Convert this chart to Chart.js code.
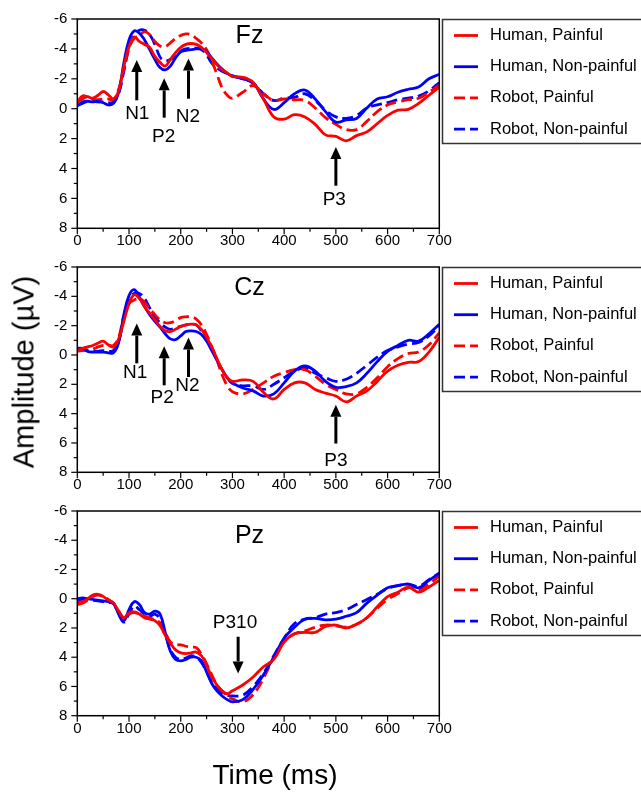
<!DOCTYPE html>
<html>
<head>
<meta charset="utf-8">
<script src="https://cdn.jsdelivr.net/npm/chart.js@4.4.1/dist/chart.umd.min.js"></script>
<style>
  body { margin: 0; background: #fff; width: 641px; height: 792px; overflow: hidden; position: relative;
         font-family: "Liberation Sans", Arial, sans-serif; }
  .panel { position: absolute; left: 0; width: 641px; }
  .axtitle { position: absolute; white-space: nowrap; color: #000; }
  #ytitle { left: 24px; top: 372px; transform: translate(-50%, -50%) rotate(-90deg); font-size: 29px; }
  #xtitle { left: 275px; top: 775px; transform: translate(-50%, -50%); font-size: 28px; }
</style>
</head>
<body>
<div class="panel" style="top:0;height:248px"><canvas id="fz"></canvas></div>
<div class="panel" style="top:248px;height:244px"><canvas id="cz"></canvas></div>
<div class="panel" style="top:492px;height:300px"><canvas id="pz"></canvas></div>
<div class="axtitle" id="ytitle">Amplitude (µV)</div>
<div class="axtitle" id="xtitle">Time (ms)</div>
<script>
// sample times (ms)
const times = [0, 10, 20, 30, 40, 50, 60, 70, 80, 90, 100, 110, 120, 130, 140, 150, 160, 170, 180, 190, 200,
  210, 220, 230, 240, 250, 260, 270, 280, 290, 300,
  320, 340, 360, 380, 400, 420, 440, 460, 480, 500, 520, 540, 560, 580, 600, 620, 640, 660, 680, 700];

const seriesNames = ['Human, Painful', 'Human, Non-painful', 'Robot, Painful', 'Robot, Non-painful'];
const xTicks = [0, 100, 200, 300, 400, 500, 600, 700];
const yTicks = [-6, -4, -2, 0, 2, 4, 6, 8];

// Fz (µV)
const fzHumanPain = [-0.45, -0.85, -0.8, -0.7, -0.9, -1.15, -0.93, -0.66, -1.2, -2.85, -4.15, -4.8, -4.5, -4.3, -4.1, -3.5, -3.1, -2.85, -3.3, -3.75, -4.1,
  -4.3, -4.36, -4.3, -4.1, -3.75, -3.35, -2.95, -2.6, -2.4, -2.15,
  -2.1, -1.75, -0.65, 0.55, 0.7, 0.4, 0.55, 1.05, 1.75, 1.85, 2.15, 1.8, 1.55, 1.0, 0.45, 0.1, 0.05, -0.35, -0.9, -1.45];
const fzHumanNon = [-0.2, -0.45, -0.5, -0.45, -0.5, -0.4, -0.25, -0.35, -1.1, -3.05, -4.6, -5.2, -5.05, -4.6, -3.95, -3.3, -2.75, -2.6, -2.85, -3.4, -3.8,
  -3.9, -3.95, -4.0, -4.0, -3.8, -3.4, -3.0, -2.65, -2.35, -2.2,
  -2.0, -1.75, -0.65, 0.05, -0.4, -1.0, -1.25, -0.65, 0.2, 0.9, 0.75, 0.65, -0.05, -0.65, -0.8, -1.1, -1.3, -1.45, -2.0, -2.3];
const fzRobotPain = [-0.45, -0.65, -0.8, -0.65, -0.6, -0.65, -0.65, -0.6, -1.3, -2.7, -4.05, -4.7, -4.9, -5.15, -4.95, -4.5, -4.2, -4.15, -4.4, -4.7, -4.9,
  -5.0, -4.95, -4.7, -4.4, -3.95, -3.2, -2.3, -1.4, -0.9, -0.7,
  -1.1, -1.55, -1.0, -0.55, -0.65, -0.6, -0.55, -0.05, 0.6, 1.05, 1.4, 1.4, 0.85, 0.2, -0.25, -0.45, -0.6, -0.7, -1.1, -1.6];
const fzRobotNon = [-0.2, -0.35, -0.5, -0.5, -0.45, -0.45, -0.4, -0.45, -1.0, -2.5, -4.05, -4.95, -5.25, -5.25, -4.95, -4.3, -3.45, -3.2, -3.3, -3.5, -3.85,
  -4.0, -4.05, -4.05, -3.95, -3.6, -3.05, -2.75, -2.5, -2.35, -2.2,
  -2.0, -1.7, -1.0, -0.55, -0.7, -0.75, -1.0, -0.55, 0.1, 0.55, 0.65, 0.45, -0.05, -0.25, -0.4, -0.6, -0.7, -0.85, -1.2, -1.75];

// Cz (µV)
const czHumanPain = [-0.3, -0.45, -0.55, -0.65, -0.8, -0.95, -0.7, -0.55, -1.1, -2.3, -3.5, -4.1, -3.85, -3.3, -2.85, -2.4, -1.95, -1.65, -1.6, -1.75, -1.95,
  -2.05, -2.1, -2.05, -1.75, -1.2, -0.55, 0.25, 1.0, 1.55, 1.8,
  1.7, 1.8, 2.55, 3.0, 2.35, 1.9, 1.9, 2.35, 2.6, 2.8, 3.2, 2.8, 2.45, 1.8, 1.1, 0.7, 0.5, 0.45, -0.2, -1.2];
const czHumanNon = [-0.45, -0.45, -0.25, -0.2, -0.2, -0.2, -0.15, -0.15, -0.85, -2.75, -4.05, -4.45, -3.95, -3.3, -2.75, -2.3, -1.9, -1.45, -1.1, -1.05, -1.3,
  -1.6, -1.65, -1.6, -1.4, -0.95, -0.3, 0.35, 1.0, 1.55, 1.9,
  2.25, 2.45, 2.8, 2.65, 1.9, 1.1, 0.75, 1.1, 1.8, 2.2, 2.15, 1.9, 1.25, 0.45, -0.25, -0.65, -1.0, -0.95, -1.45, -2.1];
const czRobotPain = [-0.25, -0.3, -0.35, -0.4, -0.55, -0.65, -0.65, -0.65, -1.2, -2.65, -3.5, -3.75, -3.85, -3.6, -3.15, -2.75, -2.4, -2.2, -2.2, -2.35, -2.55,
  -2.6, -2.6, -2.45, -2.05, -1.4, -0.55, 0.35, 1.35, 2.1, 2.5,
  2.65, 2.35, 1.9, 1.45, 1.2, 1.0, 1.0, 1.45, 2.0, 2.35, 2.65, 2.65, 2.2, 1.55, 0.8, 0.25, -0.1, -0.2, -0.7, -1.5];
const czRobotNon = [-0.35, -0.35, -0.3, -0.25, -0.25, -0.3, -0.25, -0.3, -0.95, -2.5, -3.75, -4.2, -4.2, -3.85, -3.2, -2.6, -2.2, -1.9, -1.75, -1.85, -1.95,
  -2.05, -2.1, -2.05, -1.65, -1.1, -0.4, 0.35, 1.0, 1.55, 1.95,
  2.1, 2.1, 2.35, 2.0, 1.55, 1.1, 0.9, 1.25, 1.55, 1.8, 1.65, 1.25, 0.7, 0.15, -0.3, -0.55, -0.75, -0.85, -1.3, -2.0];

// Pz (µV)
const pzHumanPain = [0.25, 0.2, 0, -0.25, -0.3, -0.15, 0.1, 0.3, 0.85, 1.3, 0.95, 0.9, 1.05, 1.3, 1.4, 1.5, 1.85, 2.5, 3.05, 3.5, 3.7,
  3.75, 3.7, 3.65, 3.9, 4.55, 5.35, 5.9, 6.3, 6.5, 6.3,
  5.9, 5.35, 4.65, 4.15, 2.95, 2.4, 2.3, 2.3, 1.9, 1.8, 2.0, 1.75, 1.3, 0.55, -0.15, -0.45, -0.8, -0.45, -0.8, -1.25];
const pzHumanNon = [0, -0.05, 0, 0.05, 0.1, 0.15, 0.2, 0.3, 1.05, 1.5, 0.75, 0.2, 0.4, 0.95, 1.05, 0.85, 1.05, 2.3, 3.6, 4.15, 4.25,
  4.15, 4.0, 4.0, 4.25, 5.0, 5.8, 6.3, 6.65, 6.9, 7.05,
  6.9, 6.2, 5.2, 4.0, 2.7, 1.95, 1.4, 1.35, 1.45, 1.4, 1.2, 0.95, 0.3, -0.25, -0.75, -0.9, -1.0, -0.75, -1.25, -1.75];
const pzRobotPain = [0.4, 0.3, 0.1, -0.15, -0.25, -0.15, 0.05, 0.3, 0.85, 1.3, 1.05, 0.95, 1.05, 1.2, 1.3, 1.45, 1.65, 2.3, 2.95, 3.15, 3.15,
  3.25, 3.3, 3.35, 3.8, 4.45, 5.2, 5.9, 6.3, 6.65, 6.85,
  7.05, 6.55, 5.45, 4.0, 2.95, 2.4, 2.2, 1.95, 1.8, 1.85, 1.95, 1.75, 1.3, 0.65, 0.05, -0.35, -0.75, -0.6, -1.0, -1.55];
const pzRobotNon = [0.1, 0.05, 0.05, 0.1, 0.15, 0.2, 0.25, 0.35, 1.05, 1.6, 1.05, 0.5, 0.75, 1.05, 1.2, 1.05, 1.4, 2.4, 3.5, 4.0, 4.15,
  4.05, 3.9, 4.0, 4.35, 5.0, 5.7, 6.15, 6.45, 6.6, 6.65,
  6.6, 6.0, 5.1, 3.9, 2.7, 1.7, 1.4, 1.3, 1.05, 0.95, 0.75, 0.4, 0.05, -0.3, -0.7, -0.9, -1.0, -0.85, -1.3, -1.75];

// component markers, in data units (x ms, y µV)
const fzMarks = {
  title: { text: 'Fz', x: 333, y: -4.84 },
  arrows: [{ x: 115, tail: -0.56, tip: -3.26 }, { x: 168, tail: 0.6, tip: -2.03 },
           { x: 215, tail: -0.67, tip: -3.35 }, { x: 500, tail: 5.15, tip: 2.56 }],
  labels: [{ text: 'N1', x: 116, y: 0.32 }, { text: 'P2', x: 167, y: 1.86 },
           { text: 'N2', x: 214, y: 0.54 }, { text: 'P3', x: 497, y: 6.09 }]
};
const czMarks = {
  title: { text: 'Cz', x: 333, y: -4.54 },
  arrows: [{ x: 115, tail: 0.57, tip: -2.14 }, { x: 168, tail: 2.07, tip: -0.6 },
           { x: 215, tail: 1.5, tip: -1.19 }, { x: 500, tail: 6.04, tip: 3.39 }],
  labels: [{ text: 'N1', x: 112, y: 1.23 }, { text: 'P2', x: 164, y: 2.95 },
           { text: 'N2', x: 213, y: 2.07 }, { text: 'P3', x: 500, y: 7.23 }]
};
const pzMarks = {
  title: { text: 'Pz', x: 333, y: -4.29 },
  arrows: [{ x: 311, tail: 2.6, tip: 5.11 }],
  labels: [{ text: 'P310', x: 305, y: 1.64 }]
};

const FONT = '"Liberation Sans", Arial, sans-serif';
Chart.defaults.font.family = FONT;
Chart.defaults.color = '#000';

const colors = ['#ff0000', '#0000ff', '#ff0000', '#0000ff'];
const dashes = [[], [], [11, 5], [11, 5]];

function drawArrow(ctx, x, y0, y1) {
  const dir = Math.sign(y1 - y0);
  const head = 12, half = 5.5;
  ctx.lineWidth = 3;
  ctx.beginPath();
  ctx.moveTo(x, y0);
  ctx.lineTo(x, y1 - dir * head);
  ctx.stroke();
  ctx.beginPath();
  ctx.moveTo(x, y1);
  ctx.lineTo(x - half, y1 - dir * head);
  ctx.lineTo(x + half, y1 - dir * head);
  ctx.closePath();
  ctx.fill();
}

const decor = {
  id: 'decor',
  afterDatasetsDraw(chart, args, opts) {
    const { ctx, chartArea: a, scales: { x, y } } = chart;
    const marks = opts.marks;
    ctx.save();
    ctx.strokeStyle = '#000';
    ctx.fillStyle = '#000';

    // frame and tick marks
    ctx.lineWidth = 1.5;
    ctx.strokeRect(a.left, a.top, a.right - a.left, a.bottom - a.top);
    ctx.lineWidth = 1.2;
    x.ticks.forEach(t => {
      const px = x.getPixelForValue(t.value);
      const len = t.value % 100 === 0 ? 6 : 3.5;
      ctx.beginPath(); ctx.moveTo(px, a.bottom); ctx.lineTo(px, a.bottom + len); ctx.stroke();
    });
    y.ticks.forEach(t => {
      const py = y.getPixelForValue(t.value);
      const len = t.value % 2 === 0 ? 6 : 3.5;
      ctx.beginPath(); ctx.moveTo(a.left, py); ctx.lineTo(a.left - len, py); ctx.stroke();
    });

    // arrows and component names
    marks.arrows.forEach(m => drawArrow(ctx, x.getPixelForValue(m.x), y.getPixelForValue(m.tail), y.getPixelForValue(m.tip)));
    ctx.textAlign = 'center';
    ctx.textBaseline = 'middle';
    ctx.font = '19px ' + FONT;
    marks.labels.forEach(m => ctx.fillText(m.text, x.getPixelForValue(m.x), y.getPixelForValue(m.y)));
    ctx.font = '25px ' + FONT;
    ctx.fillText(marks.title.text, x.getPixelForValue(marks.title.x), y.getPixelForValue(marks.title.y));

    // legend box
    const bx = 442.5, by = a.top + 0.5;
    ctx.strokeStyle = '#333';
    ctx.lineWidth = 1.5;
    ctx.strokeRect(bx, by, 220, 124);
    ctx.textAlign = 'left';
    ctx.font = '16.5px ' + FONT;
    chart.data.datasets.forEach((ds, i) => {
      const ry = by + 16 + i * 31.2;
      ctx.strokeStyle = ds.borderColor;
      ctx.lineWidth = 2.8;
      ctx.setLineDash(ds.borderDash);
      ctx.beginPath(); ctx.moveTo(454, ry); ctx.lineTo(478, ry); ctx.stroke();
      ctx.setLineDash([]);
      ctx.fillStyle = '#000';
      ctx.fillText(ds.label, 490, ry);
    });
    ctx.restore();
  }
};

function makePanel(id, series, marks, topPad, xHeight) {
  return new Chart(document.getElementById(id), {
    type: 'line',
    data: {
      datasets: series.map((vals, i) => ({
        label: seriesNames[i],
        data: times.map((t, k) => ({ x: t, y: vals[k] })),
        borderColor: colors[i],
        borderDash: dashes[i],
        borderWidth: 2.8,
        pointRadius: 0,
        tension: 0.4,
        fill: false
      }))
    },
    options: {
      responsive: true,
      maintainAspectRatio: false,
      animation: false,
      layout: { padding: { top: topPad, left: 0, right: 201.7, bottom: 0 } },
      plugins: { legend: { display: false }, tooltip: { enabled: false }, decor: { marks } },
      scales: {
        x: {
          type: 'linear', min: 0, max: 700,
          grid: { display: false, drawTicks: false },
          border: { display: false },
          afterFit: s => { s.height = xHeight; },
          ticks: {
            stepSize: 50, autoSkip: false, maxRotation: 0, padding: 4,
            font: { size: 15 },
            callback: v => (xTicks.includes(v) ? String(v) : '')
          }
        },
        y: {
          min: -6, max: 8, reverse: true,
          grid: { display: false, drawTicks: false },
          border: { display: false },
          afterFit: s => { s.width = 77.3; },
          ticks: {
            stepSize: 1, autoSkip: false, padding: 10,
            font: { size: 15 },
            callback: v => (yTicks.includes(v) ? String(v) : '')
          }
        }
      }
    },
    plugins: [decor]
  });
}

makePanel('fz', [fzHumanPain, fzHumanNon, fzRobotPain, fzRobotNon], fzMarks, 15.7, 19.7);
makePanel('cz', [czHumanPain, czHumanNon, czRobotPain, czRobotNon], czMarks, 12.7, 19.7);
makePanel('pz', [pzHumanPain, pzHumanNon, pzRobotPain, pzRobotNon], pzMarks, 10.3, 76.3);
</script>
</body>
</html>
